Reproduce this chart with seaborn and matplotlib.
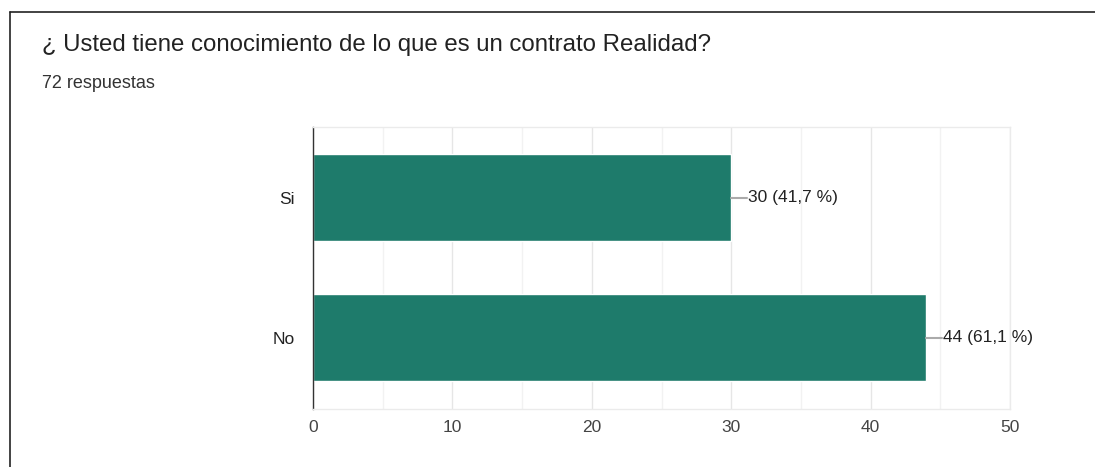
import matplotlib
matplotlib.use("Agg")
import matplotlib.pyplot as plt
import seaborn as sns
import pandas as pd
from matplotlib.ticker import MultipleLocator
from matplotlib.lines import Line2D

categories = ["Si", "No"]
counts = [30, 44]
pct_labels = ["41,7 %", "61,1 %"]
x_ticks = [0, 10, 20, 30, 40, 50]
title = "¿ Usted tiene conocimiento de lo que es un contrato Realidad?"
subtitle = "72 respuestas"

sns.set_theme(style="white")
plt.rcParams["font.family"] = ["Liberation Sans", "DejaVu Sans"]

fig = plt.figure(figsize=(10.95, 4.67), dpi=100)
ax = fig.add_axes([313/1095, 1-409/467, (1010-313)/1095, (409-127)/467])

df = pd.DataFrame({"cat": categories, "n": counts})
sns.barplot(data=df, y="cat", x="n", orient="h", color="#1e7b6b", saturation=1,
            width=0.62, ax=ax)

ax.set_xlim(0, 50)
ax.set_ylim(1.51, -0.504)
ax.set_xticks(x_ticks)
ax.xaxis.set_minor_locator(MultipleLocator(5))
ax.grid(True, which="major", axis="x", color="#e6e6e6", linewidth=1)
ax.grid(True, which="minor", axis="x", color="#f2f2f2", linewidth=1)
ax.set_axisbelow(True)
ax.set_xlabel("")
ax.set_ylabel("")
for s in ["top", "right", "bottom"]:
    ax.spines[s].set_color("#ebebeb")
    ax.spines[s].set_linewidth(1)
ax.spines["left"].set_color("#333333")
ax.spines["left"].set_linewidth(1)
ax.tick_params(axis="both", length=0, labelsize=12.5, colors="#444444")
ax.tick_params(axis="y", pad=13, labelcolor="#222222")
ax.tick_params(axis="x", pad=8)

for i, (c, p) in enumerate(zip(counts, pct_labels)):
    ax.plot([c, c + 1.1], [i, i], color="#aaaaaa", linewidth=1.5, clip_on=False)
    ax.text(c + 1.2, i, f"{c} ({p})", va="center", ha="left", fontsize=12.5, color="#222222")

fig.text(42/1095, 1-45/467, title, fontsize=17.3, color="#222222", va="center", ha="left")
fig.text(42/1095, 1-83/467, subtitle, fontsize=13, color="#333333", va="center", ha="left")

# card border (top and left edges)
fig.add_artist(Line2D([10/1095, 1], [1-12/467, 1-12/467], transform=fig.transFigure, color="#222222", linewidth=1.2))
fig.add_artist(Line2D([10/1095, 10/1095], [0, 1-12/467], transform=fig.transFigure, color="#222222", linewidth=1.2))

fig.savefig("out.png", dpi=100)
